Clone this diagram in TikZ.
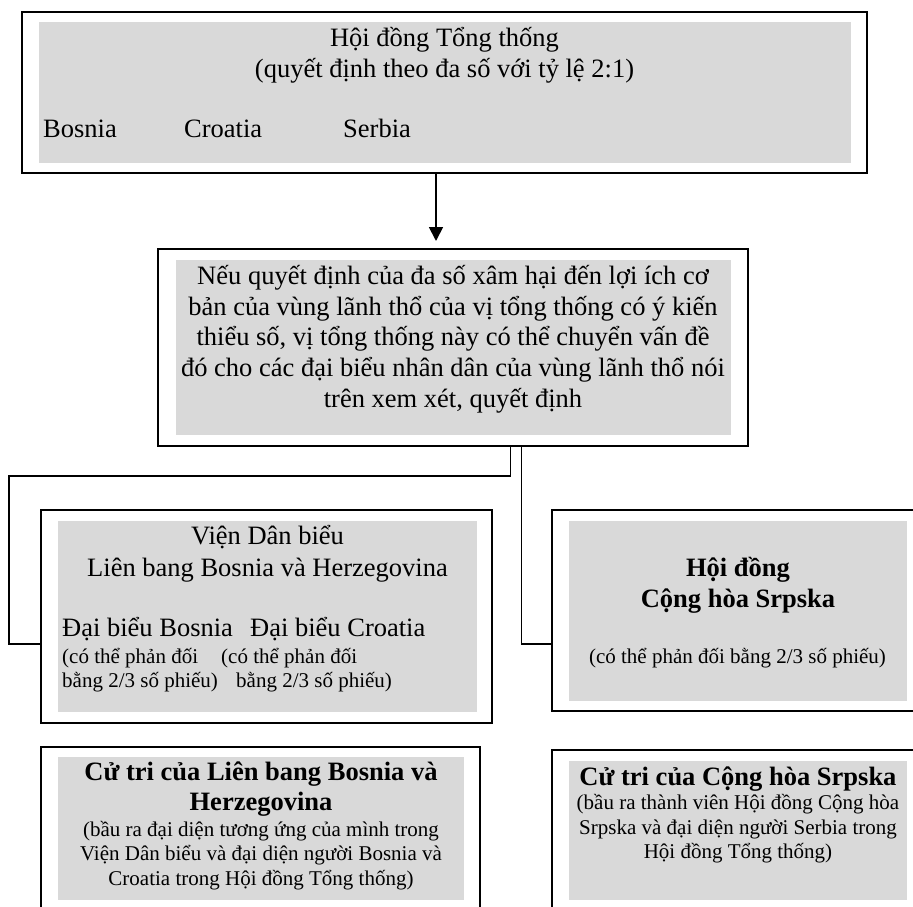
\documentclass[tikz,border=0pt]{standalone}
\usepackage{fontspec}
\setmainfont{Liberation Serif}
\usetikzlibrary{arrows.meta}
\definecolor{panel}{RGB}{217,217,217}
\begin{document}
\begin{tikzpicture}[x=1pt,y=-1pt,
  frame/.style={draw=black, line width=2pt, fill=white, inner sep=0pt, outer sep=0pt, anchor=north west},
  shade/.style={fill=panel, draw=none, inner sep=0pt, outer sep=0pt, anchor=north west},
  big/.style={font=\fontsize{26.5}{32}\selectfont, inner sep=0pt, anchor=base},
  bigbold/.style={font=\fontsize{26.5}{32}\selectfont\bfseries, inner sep=0pt, anchor=base},
  small/.style={font=\fontsize{21}{25}\selectfont, inner sep=0pt, anchor=base},
  link/.style={line width=1.8pt},
]
\useasboundingbox (0,0) rectangle (913,906);
\clip (0,0) rectangle (913,906);

% ---- boxes: white framed panel with a grey field inside ----
\node[frame, minimum width=845pt, minimum height=161pt] (council) at (22,12) {};
\node[shade, minimum width=812pt, minimum height=141pt] (councilbg) at (39,22) {};

\node[frame, minimum width=590pt, minimum height=197pt] (assembly) at (158,249) {};
\node[shade, minimum width=555pt, minimum height=175pt] (assemblybg) at (176,260) {};

\node[frame, minimum width=451pt, minimum height=213pt] (house) at (41,510) {};
\node[shade, minimum width=419pt, minimum height=191pt] (housebg) at (58,521) {};

\node[frame, minimum width=372pt, minimum height=201pt] (rsnat) at (552,510) {};
\node[shade, minimum width=338pt, minimum height=180pt] (rsnatbg) at (569,521) {};

\node[frame, minimum width=439pt, minimum height=165pt] (fedvote) at (41,747) {};
\node[shade, minimum width=406pt, minimum height=143pt] (fedvotebg) at (58,757) {};

\node[frame, minimum width=372pt, minimum height=162pt] (rsvote) at (552,750) {};
\node[shade, minimum width=338pt, minimum height=139pt] (rsvotebg) at (569,761) {};

% ---- connectors ----
\coordinate (arrowx) at (436,0);
\draw[link, -{Triangle[width=14pt,length=14pt]}, shorten >=8pt]
  (council.south -| arrowx) -- (assembly.north -| arrowx);

\coordinate (drop1) at (510.5,476);
\coordinate (rail) at (9,476);
\coordinate (foot) at (0,644);
\draw[link] (assembly.south -| drop1) -- (drop1) -- (rail) |- (house.west |- foot);

\coordinate (drop2) at (521.5,0);
\draw[link] (assembly.south -| drop2) |- (rsnat.west |- foot);

% ---- Presidency ----
\node[big] (pres1) at (444.5,46) {Hội đồng Tổng thống};
\node[big] (pres2) at (444.5,77) {(quyết định theo đa số với tỷ lệ 2:1)};
\node[big, anchor=base west] (presb) at (43,137) {Bosnia};
\node[big, anchor=base west] (presc) at (184,137) {Croatia};
\node[big, anchor=base west] (press) at (343,137) {Serbia};

% ---- vital interest referral ----
\node[big] (ref1) at (453,284.5) {Nếu quyết định của đa số xâm hại đến lợi ích cơ};
\node[big] (ref2) at (453,315) {bản của vùng lãnh thổ của vị tổng thống có ý kiến};
\node[big] (ref3) at (453,345.5) {thiểu số, vị tổng thống này có thể chuyển vấn đề};
\node[big] (ref4) at (453,376) {đó cho các đại biểu nhân dân của vùng lãnh thổ nói};
\node[big] (ref5) at (453,407) {trên xem xét, quyết định};

% ---- House of Peoples of the Federation ----
\node[big] (hp1) at (267.5,544) {Viện Dân biểu};
\node[big] (hp2) at (267.5,576) {Liên bang Bosnia và Herzegovina};
\node[big, anchor=base west] (hpb) at (62,636) {Đại biểu Bosnia};
\node[big, anchor=base west] (hpc) at (250,636) {Đại biểu Croatia};
\node[small, anchor=base west] (hpb1) at (62,663) {(có thể phản đối};
\node[small, anchor=base west] (hpb2) at (62,687) {bằng 2/3 số phiếu)};
\node[small, anchor=base west] (hpc1) at (221,663) {(có thể phản đối};
\node[small, anchor=base west] (hpc2) at (236,687) {bằng 2/3 số phiếu)};

% ---- National Assembly of Republika Srpska ----
\node[bigbold] (na1) at (738,576) {Hội đồng};
\node[bigbold] (na2) at (738,607) {Cộng hòa Srpska};
\node[small] (na3) at (737.5,663) {(có thể phản đối bằng 2/3 số phiếu)};

% ---- electorates ----
\node[bigbold] (fv1) at (261,780) {Cử tri của Liên bang Bosnia và};
\node[bigbold] (fv2) at (261,810) {Herzegovina};
\node[small] (fv3) at (261,836) {(bầu ra đại diện tương ứng của mình trong};
\node[small] (fv4) at (261,860.5) {Viện Dân biểu và đại diện người Bosnia và};
\node[small] (fv5) at (261,885) {Croatia trong Hội đồng Tổng thống)};

\node[bigbold] (rv1) at (738,785) {Cử tri của Cộng hòa Srpska};
\node[small] (rv2) at (738,809) {(bầu ra thành viên Hội đồng Cộng hòa};
\node[small] (rv3) at (738,834) {Srpska và đại diện người Serbia trong};
\node[small] (rv4) at (738,858) {Hội đồng Tổng thống)};
\end{tikzpicture}
\end{document}
